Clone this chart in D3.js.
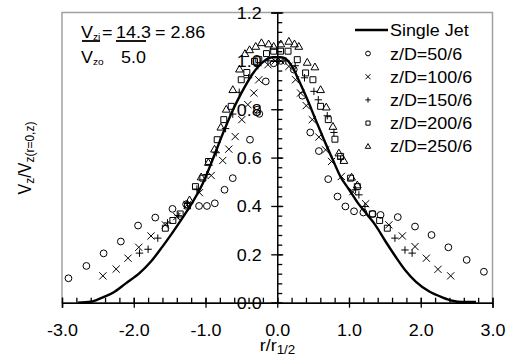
<!DOCTYPE html>
<html>
<head>
<meta charset="utf-8">
<script src="https://cdn.jsdelivr.net/npm/d3@7"></script>
<style>
  body { margin: 0; background: #fff; }
  svg { display: block; font-family: "Liberation Sans", Arial, sans-serif; }
</style>
</head>
<body>
<svg id="chart" width="508" height="358"></svg>
<script>
// tick values
const xTicks = [-3, -2, -1, 0, 1, 2, 3];
const yTicks = [0, 0.2, 0.4, 0.6, 0.8, 1.0, 1.2];

const seriesNames = ["z/D=50/6", "z/D=100/6", "z/D=150/6", "z/D=200/6", "z/D=250/6"];
const seriesMarks = ["circle", "times", "plus", "square", "triangle"];

// single jet profile [r/r1/2, Vz/Vz0]
const singleJet = [
  [-2.78, 0.0], [-2.6, 0.004], [-2.52, 0.011], [-2.43, 0.022], [-2.29, 0.041], [-2.11, 0.08],
  [-1.92, 0.122], [-1.76, 0.17], [-1.6, 0.232], [-1.46, 0.29], [-1.3, 0.36], [-1.18, 0.416],
  [-1.04, 0.492], [-0.9, 0.592], [-0.76, 0.698], [-0.62, 0.796], [-0.48, 0.878], [-0.34, 0.948],
  [-0.2, 0.995], [-0.06, 1.015], [0.05, 1.015], [0.12, 1.008], [0.21, 0.975], [0.3, 0.92],
  [0.42, 0.84], [0.53, 0.76], [0.65, 0.675], [0.77, 0.594], [0.88, 0.522], [1.0, 0.468],
  [1.12, 0.414], [1.26, 0.362], [1.37, 0.32], [1.51, 0.253], [1.65, 0.19], [1.79, 0.132],
  [1.93, 0.087], [2.12, 0.046], [2.3, 0.022], [2.44, 0.008], [2.58, 0.003], [2.77, 0.003]
];

const zd50 = [
  [-2.91, 0.101], [-2.66, 0.152], [-2.42, 0.204], [-2.18, 0.253], [-1.94, 0.319], [-1.7, 0.352],
  [-1.46, 0.388], [-1.27, 0.407], [-1.09, 0.4], [-0.98, 0.4], [-0.87, 0.411], [-0.735, 0.467],
  [-0.62, 0.515], [-0.38, 0.674], [-0.28, 0.798], [-0.25, 0.781], [-0.16, 0.915], [-0.05, 0.99],
  [0.05, 1.0], [0.23, 0.964], [0.35, 0.856], [0.46, 0.704], [0.58, 0.627], [0.71, 0.511],
  [0.84, 0.439], [0.95, 0.398], [1.07, 0.378], [1.2, 0.373], [1.33, 0.367], [1.44, 0.363],
  [1.68, 0.354], [1.92, 0.315], [2.15, 0.28], [2.385, 0.229], [2.64, 0.177], [2.88, 0.128]
];

const zd100 = [
  [-2.43, 0.111], [-2.245, 0.139], [-2.08, 0.184], [-1.93, 0.229], [-1.76, 0.276], [-1.56, 0.322],
  [-1.4, 0.356], [-1.255, 0.405], [-1.084, 0.455], [-0.92, 0.526], [-0.76, 0.588], [-0.675, 0.635],
  [-0.586, 0.687], [-0.494, 0.757], [-0.41, 0.819], [-0.326, 0.867], [-0.257, 0.922], [-0.13, 0.984],
  [-0.03, 1.0], [0.05, 1.0], [0.162, 0.977], [0.255, 0.922], [0.325, 0.867], [0.404, 0.815],
  [0.488, 0.757], [0.58, 0.685], [0.674, 0.632], [0.757, 0.584], [0.893, 0.522], [1.054, 0.459],
  [1.232, 0.409], [1.556, 0.322], [1.743, 0.276], [1.92, 0.232], [2.078, 0.184], [2.24, 0.138],
  [2.417, 0.111]
];

const zd150 = [
  [-1.92, 0.205], [-1.8, 0.221], [-1.665, 0.267], [-1.53, 0.33], [-1.38, 0.36], [-1.25, 0.41],
  [-1.12, 0.47], [-0.98, 0.53], [-0.85, 0.62], [-0.72, 0.72], [-0.62, 0.78], [-0.53, 0.87],
  [-0.4, 0.93], [-0.27, 0.98], [-0.13, 1.0], [0.0, 1.0], [0.12, 1.0], [0.25, 0.98], [0.38, 0.93],
  [0.511, 0.874], [0.572, 0.839], [0.697, 0.773], [0.79, 0.704], [0.883, 0.594], [1.092, 0.467],
  [1.138, 0.446], [1.222, 0.398], [1.64, 0.267], [1.78, 0.218], [1.88, 0.205]
];

const zd200 = [
  [-1.56, 0.308], [-1.455, 0.34], [-1.353, 0.367], [-1.25, 0.4], [-1.14, 0.48], [-1.037, 0.515],
  [-0.958, 0.584], [-0.837, 0.674], [-0.745, 0.757], [-0.642, 0.812], [-0.502, 0.922], [-0.424, 0.952],
  [-0.317, 0.998], [-0.257, 1.005], [-0.15, 1.03], [-0.05, 1.04], [0.046, 1.04], [0.15, 1.04],
  [0.279, 1.005], [0.395, 0.95], [0.497, 0.922], [0.604, 0.812], [0.711, 0.757], [0.804, 0.676],
  [0.883, 0.605], [1.022, 0.515], [1.116, 0.48], [1.325, 0.367], [1.427, 0.34], [1.534, 0.308]
];

const zd250 = [
  [-1.223, 0.425], [-1.06, 0.52], [-0.96, 0.58], [-0.874, 0.635], [-0.786, 0.726], [-0.711, 0.8],
  [-0.619, 0.881], [-0.526, 0.966], [-0.45, 1.03], [-0.386, 1.046], [-0.3, 1.06], [-0.22, 1.075],
  [-0.12, 1.07], [-0.05, 1.06], [0.05, 1.07], [0.162, 1.081], [0.24, 1.07], [0.3, 1.06],
  [0.418, 0.994], [0.525, 0.975], [0.604, 0.881], [0.683, 0.809], [0.776, 0.729], [0.859, 0.619],
  [0.929, 0.588], [1.036, 0.519], [1.116, 0.487]
];

const seriesData = [zd50, zd100, zd150, zd200, zd250];

const SX = 1.12; // horizontal text stretch seen in the picture
const svg = d3.select("#chart");

const x = d3.scaleLinear().domain([-3, 3]).range([62, 492.5]);
const y = d3.scaleLinear().domain([0, 1.2]).range([302.7, 12.5]);

// frame
svg.append("rect")
  .attr("x", x(-3)).attr("y", y(1.2))
  .attr("width", x(3) - x(-3)).attr("height", y(0) - y(1.2))
  .attr("fill", "none").attr("stroke", "#a0a0a0").attr("stroke-width", 1.5);

// marker shapes
function markPath(kind, s) {
  if (kind === "circle") return `M${-s},0A${s},${s} 0 1,0 ${s},0A${s},${s} 0 1,0 ${-s},0Z`;
  if (kind === "times") return `M${-s},${-s}L${s},${s}M${-s},${s}L${s},${-s}`;
  if (kind === "plus") return `M${-s},0H${s}M0,${-s}V${s}`;
  if (kind === "square") { const h = s * 0.85; return `M${-h},${-h}H${h}V${h}H${-h}Z`; }
  return `M0,${-s}L${s},${s * 0.75}H${-s}Z`;
}
const markSize = { circle: 3.4, times: 3.6, plus: 3.7, square: 3.5, triangle: 3.9 };

seriesData.forEach((data, i) => {
  const kind = seriesMarks[i];
  svg.append("g").selectAll("path").data(data).join("path")
    .attr("transform", d => `translate(${x(d[0])},${y(d[1])})`)
    .attr("d", markPath(kind, markSize[kind]))
    .attr("fill", "none").attr("stroke", "#000").attr("stroke-width", 1);
});

// single jet line
svg.append("path").datum(singleJet)
  .attr("fill", "none").attr("stroke", "#000").attr("stroke-width", 2.4)
  .attr("d", d3.line().x(d => x(d[0])).y(d => y(d[1])).curve(d3.curveMonotoneX));

// x axis
const gx = svg.append("g").attr("transform", `translate(0,${y(0)})`)
  .call(d3.axisBottom(x).tickValues(xTicks).tickSize(5).tickFormat(d3.format(".1f")));
gx.select(".domain").attr("stroke", "#000").attr("stroke-width", 1.5);
gx.selectAll(".tick line").attr("y1", -5).attr("stroke-width", 1.3);
gx.selectAll(".tick text").attr("y", 33.5).attr("dy", 0)
  .attr("font-size", 16).attr("font-family", null).attr("transform", `scale(${SX},1)`)
  .text(d => d3.format(".1f")(d).replace("−", "-"));
svg.append("g").attr("transform", `translate(0,${y(0)})`)
  .call(d3.axisTop(x).tickValues(d3.range(-30, 31, 2).map(v => v / 10)).tickSize(5).tickFormat(""))
  .call(g => g.select(".domain").remove())
  .selectAll("line").attr("stroke-width", 1.3);

// y axis at r = 0
const gy = svg.append("g").attr("transform", `translate(${x(0)},0)`)
  .call(d3.axisLeft(y).tickValues(yTicks).tickSize(6).tickFormat(d3.format(".1f")));
gy.select(".domain").attr("stroke", "#000").attr("stroke-width", 1.5);
gy.selectAll(".tick line").attr("x1", 6).attr("stroke-width", 1.3);
gy.selectAll(".tick text").attr("x", -15.5 / SX).attr("dy", "0.36em")
  .attr("font-size", 16).attr("font-family", null).attr("transform", `scale(${SX},1)`);
svg.append("g").attr("transform", `translate(${x(0)},0)`)
  .call(d3.axisRight(y).tickValues(d3.range(0, 31).map(v => v * 0.04)).tickSize(5).tickFormat(""))
  .call(g => g.select(".domain").remove())
  .selectAll("line").attr("stroke-width", 1.3);

// text helper with stretch
function label(px, py, size, anchor) {
  return svg.append("text")
    .attr("transform", `translate(${px},${py}) scale(${SX},1)`)
    .attr("font-size", size).attr("text-anchor", anchor || "start").attr("fill", "#000");
}

// axis titles
const xt = label(277.5, 351, 16, "middle");
xt.append("tspan").text("r/r");
xt.append("tspan").attr("font-size", 12).attr("dy", 3).text("1/2");

const yt = svg.append("text")
  .attr("transform", `translate(31,158) scale(${SX},1) rotate(-90)`)
  .attr("font-size", 16).attr("text-anchor", "middle");
yt.append("tspan").text("V");
yt.append("tspan").attr("font-size", 12).attr("dy", 3).text("z");
yt.append("tspan").attr("dy", -3).text("/V");
yt.append("tspan").attr("font-size", 12).attr("dy", 3).text("z(r=0,z)");

// velocity ratio note
label(81, 38, 16).text("V");
label(93, 40, 9).text("zi");
label(102, 38, 16).text("=");
label(116, 38, 16).text("14.3");
label(155, 38, 16).text("= 2.86");
svg.append("line").attr("x1", 82).attr("x2", 100).attr("y1", 41).attr("y2", 41).attr("stroke", "#000").attr("stroke-width", 1.8);
svg.append("line").attr("x1", 116).attr("x2", 146).attr("y1", 41).attr("y2", 41).attr("stroke", "#000").attr("stroke-width", 1.8);
label(81, 63, 16).text("V");
label(93, 65, 9).text("zo");
label(121, 63, 16).text("5.0");

// legend
svg.append("line").attr("x1", 355).attr("x2", 388).attr("y1", 30).attr("y2", 30)
  .attr("stroke", "#000").attr("stroke-width", 2.4);
label(390, 36, 16).text("Single Jet");
seriesNames.forEach((name, i) => {
  const ly = 53.5 + i * 23.2;
  const kind = seriesMarks[i];
  svg.append("path").attr("transform", `translate(368,${ly})`)
    .attr("d", markPath(kind, markSize[kind] * 0.7))
    .attr("fill", "none").attr("stroke", "#000").attr("stroke-width", 1);
  label(390, ly + 6, 16).text(name);
});
</script>
</body>
</html>
